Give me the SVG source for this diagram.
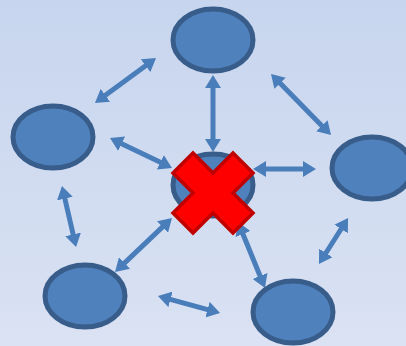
<svg xmlns="http://www.w3.org/2000/svg" width="406" height="346" viewBox="0 0 406 346">
<defs>
<linearGradient id="bg" x1="0" y1="0" x2="0" y2="1">
<stop offset="0" stop-color="#C7D5EE"/>
<stop offset="1" stop-color="#DAE2F3"/>
</linearGradient>
<marker id="ah" viewBox="0 0 13 16" refX="3" refY="8" markerWidth="13" markerHeight="16" markerUnits="userSpaceOnUse" orient="auto-start-reverse">
<path d="M0,0 L13,8 L0,16 Z" fill="#4A7EBB"/>
</marker>
</defs>
<style>
.node{fill:#4F81BD;stroke:#385D8A;stroke-width:5}
.conn line{stroke:#4A7EBB;stroke-width:5;marker-start:url(#ah);marker-end:url(#ah)}
.x{fill:#FF0000;stroke:#C00000;stroke-width:3.5;stroke-linejoin:miter}
</style>
<rect width="406" height="346" fill="url(#bg)"/>
<g id="connectors" class="conn">
<line x1="103" y1="97.1" x2="148" y2="63.9"/>
<line x1="213" y1="85" x2="213" y2="142"/>
<line x1="278" y1="81.1" x2="324" y2="127.9"/>
<line x1="119" y1="142.4" x2="163" y2="163.6"/>
<line x1="263" y1="169" x2="306" y2="169"/>
<line x1="64.2" y1="195.7" x2="73.8" y2="237.3"/>
<line x1="122.3" y1="265.1" x2="164.7" y2="224.9"/>
<line x1="241.8" y1="231.3" x2="261.2" y2="278.7"/>
<line x1="342.7" y1="226.5" x2="324.3" y2="255.5"/>
<line x1="167.6" y1="298.6" x2="210.4" y2="310.4"/>
</g>
<g id="node-top"><ellipse class="node" cx="213" cy="40" rx="40" ry="31"/></g>
<g id="node-left"><ellipse class="node" cx="53" cy="137" rx="40" ry="31"/></g>
<g id="node-right"><ellipse class="node" cx="372" cy="168" rx="40" ry="31"/></g>
<g id="node-bottom-left"><ellipse class="node" cx="85" cy="296" rx="40" ry="31"/></g>
<g id="node-bottom-right"><ellipse class="node" cx="293" cy="312" rx="40" ry="31"/></g>
<g id="node-center"><ellipse class="node" cx="213" cy="185" rx="40" ry="31"/></g>
<g id="cross">
<polygon class="x" points="213,173 233,153 253,173 233,193 253,213 233,233 213,213 193,233 173,213 193,193 173,173 193,153"/>
</g>
</svg>
